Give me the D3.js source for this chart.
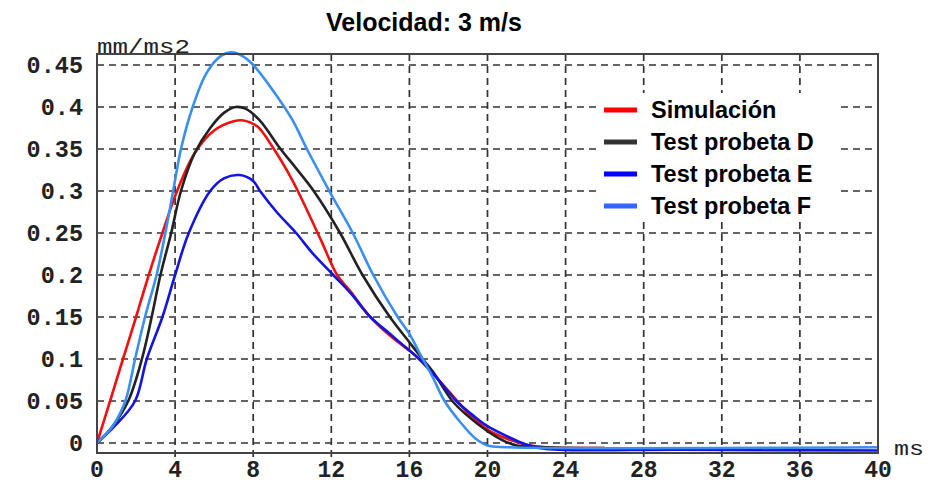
<!DOCTYPE html>
<html>
<head>
<meta charset="utf-8">
<script src="https://cdn.jsdelivr.net/npm/d3@7"></script>
<style>
  body { margin: 0; background: #fff; }
  .tick-label { font-family: "Liberation Mono", monospace; font-weight: bold; font-size: 23.5px; fill: #222; }
  .x-label { font-size: 23px; }
  .unit { font-family: "Liberation Mono", monospace; font-size: 20px; fill: #222; }
  .title { font-family: "Liberation Sans", Arial, sans-serif; font-weight: bold; font-size: 25px; fill: #000; }
  .legend-text { font-family: "Liberation Sans", Arial, sans-serif; font-weight: bold; font-size: 23.5px; fill: #000; }
</style>
</head>
<body>
<div id="chart"></div>
<script>
// values: [ms, mm/ms2]
const simulacion = [[0,0],[0.67,0.05],[1.33,0.1],[2.0,0.15],[2.65,0.2],[3.35,0.25],[4.1,0.3],[5.0,0.345],[6,0.372],[7,0.383],[7.5,0.384],[8.2,0.377],[9,0.352],[10,0.313],[10.8,0.275],[11.5,0.24],[12.3,0.2],[13,0.18],[14,0.15],[15,0.128],[16,0.11],[16.5,0.1],[17,0.088],[18,0.062],[19,0.036],[20,0.016],[21,0.005],[22,-0.002],[23,-0.005],[26,-0.006]];
const probetaD = [[0,0],[0.8,0.02],[1.6,0.05],[2.3,0.1],[2.8,0.15],[3.25,0.2],[3.8,0.25],[4.3,0.3],[5.0,0.345],[5.8,0.375],[6.5,0.393],[7.1,0.4],[7.6,0.398],[8.3,0.385],[9.4,0.35],[10.2,0.327],[11.1,0.3],[12.45,0.25],[13.6,0.2],[15,0.15],[16,0.12],[16.5,0.105],[17.2,0.085],[18.2,0.05],[19,0.032],[20,0.014],[20.8,0.003],[21.5,-0.003],[23,-0.005],[26,-0.006]];
const probetaE = [[0,0],[0.9,0.02],[1.95,0.05],[2.55,0.1],[3.35,0.15],[4.0,0.2],[4.7,0.25],[5.8,0.3],[6.5,0.315],[7.3,0.319],[8,0.312],[8.35,0.3],[9.2,0.275],[10.2,0.25],[11,0.227],[12.1,0.2],[13,0.178],[14,0.15],[15,0.13],[16,0.11],[16.5,0.1],[17.5,0.075],[18.4,0.05],[19.3,0.032],[20,0.02],[21,0.008],[22,-0.002],[23,-0.007],[30,-0.008],[40,-0.009]];
const probetaF = [[0,0],[0.8,0.02],[1.45,0.05],[1.95,0.1],[2.46,0.15],[3.05,0.2],[3.5,0.25],[3.9,0.3],[4.3,0.35],[4.9,0.4],[5.6,0.44],[6.3,0.46],[6.9,0.465],[7.5,0.46],[8,0.45],[9,0.42],[10,0.385],[10.75,0.35],[11.9,0.3],[13.1,0.25],[14.15,0.2],[15.4,0.15],[16,0.13],[16.5,0.108],[17.2,0.078],[17.8,0.05],[18.6,0.025],[19.4,0.005],[20,-0.003],[21,-0.005],[40,-0.005]];

const seriesNames = ["Simulación", "Test probeta D", "Test probeta E", "Test probeta F"];
const seriesColors = ["#f01010", "#222222", "#1414e0", "#3a8ff0"];
const legendColors = ["#ff0000", "#333333", "#0000ff", "#3366ff"];

const xTicks = [0, 4, 8, 12, 16, 20, 24, 28, 32, 36, 40];
const yTicks = [0, 0.05, 0.1, 0.15, 0.2, 0.25, 0.3, 0.35, 0.4, 0.45];
const yTickLabels = ["0", "0.05", "0.1", "0.15", "0.2", "0.25", "0.3", "0.35", "0.4", "0.45"];

const W = 932, H = 485;
const plot = { left: 97, right: 878, top: 54, bottom: 453 };

const svg = d3.select("#chart").append("svg")
  .attr("width", W)
  .attr("height", H);

const x = d3.scaleLinear().domain([0, 40]).range([plot.left, plot.right]);
const y = d3.scaleLinear().domain([-0.0119, 0.4631]).range([plot.bottom, plot.top]);

// grid
svg.append("g").selectAll("line")
  .data(yTicks)
  .enter().append("line")
  .attr("x1", plot.left).attr("x2", plot.right)
  .attr("y1", d => y(d)).attr("y2", d => y(d))
  .attr("stroke", "#333").attr("stroke-width", 1.7)
  .attr("stroke-dasharray", "7,5");

svg.append("g").selectAll("line")
  .data(xTicks.filter(d => d > 0 && d < 40))
  .enter().append("line")
  .attr("x1", d => x(d)).attr("x2", d => x(d))
  .attr("y1", plot.top).attr("y2", plot.bottom + 4)
  .attr("stroke", "#333").attr("stroke-width", 1.7)
  .attr("stroke-dasharray", "7,5");

// legend background hides the grid
svg.append("rect")
  .attr("x", 598).attr("y", 93)
  .attr("width", 240).attr("height", 129)
  .attr("fill", "#fff");

// curves
const line = d3.line()
  .x(d => x(d[0]))
  .y(d => y(d[1]))
  .curve(d3.curveCatmullRom.alpha(0.5));

[simulacion, probetaD, probetaE, probetaF].forEach(function(s, i) {
  svg.append("path")
    .datum(s)
    .attr("fill", "none")
    .attr("stroke", seriesColors[i])
    .attr("stroke-width", 2.6)
    .attr("stroke-linejoin", "round")
    .attr("d", line);
});

// frame
svg.append("rect")
  .attr("x", plot.left).attr("y", plot.top)
  .attr("width", plot.right - plot.left).attr("height", plot.bottom - plot.top)
  .attr("fill", "none").attr("stroke", "#444").attr("stroke-width", 2);

// tick labels
svg.append("g").selectAll("text")
  .data(yTicks)
  .enter().append("text")
  .attr("class", "tick-label")
  .attr("x", 83)
  .attr("y", d => y(d) + 8)
  .attr("text-anchor", "end")
  .text((d, i) => yTickLabels[i]);

svg.append("g").selectAll("text")
  .data(xTicks)
  .enter().append("text")
  .attr("class", "tick-label x-label")
  .attr("x", d => x(d))
  .attr("y", 477)
  .attr("text-anchor", "middle")
  .text(d => d);

// units
svg.append("text").attr("class", "unit")
  .attr("x", 97).attr("y", 53)
  .attr("textLength", 93).attr("lengthAdjust", "spacingAndGlyphs")
  .text("mm/ms2");

svg.append("text").attr("class", "unit")
  .attr("x", 894).attr("y", 455)
  .attr("textLength", 30).attr("lengthAdjust", "spacingAndGlyphs")
  .text("ms");

// title
svg.append("text").attr("class", "title")
  .attr("x", 424).attr("y", 31)
  .attr("text-anchor", "middle")
  .text("Velocidad: 3 m/s");

// legend
const legend = svg.append("g").selectAll("g")
  .data(seriesNames)
  .enter().append("g")
  .attr("transform", (d, i) => "translate(604," + (110 + i * 32) + ")");

legend.append("line")
  .attr("x1", 0).attr("x2", 33)
  .attr("stroke", (d, i) => legendColors[i])
  .attr("stroke-width", 5);

legend.append("text")
  .attr("class", "legend-text")
  .attr("x", 47).attr("y", 8)
  .text(d => d);
</script>
</body>
</html>
